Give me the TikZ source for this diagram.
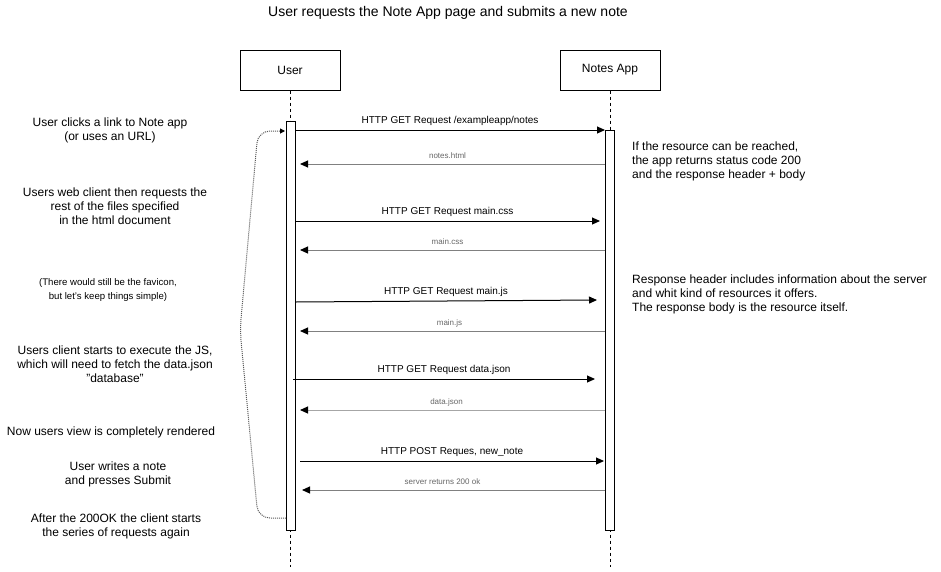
\documentclass[tikz,border=0pt]{standalone}
\usepackage{fontspec}
\setmainfont{Liberation Sans}
\usetikzlibrary{arrows.meta}
\newcommand\fsz[2]{\fontsize{#1}{#2}\selectfont}
\begin{document}
\begin{tikzpicture}[x=1pt,y=-1pt,
  titletext/.style={font=\fsz{14}{17}, inner sep=0},
  actor/.style={draw, line width=1pt, minimum width=100pt, minimum height=40pt, inner sep=0, font=\fsz{12}{14}},
  actbar/.style={draw, fill=white, line width=1pt, minimum width=9pt, inner sep=0},
  life/.style={dash pattern=on 3pt off 3pt, line width=1pt},
  req/.style={line width=1pt, -{Triangle[length=8pt,width=7pt]}},
  ret/.style={line width=1pt, draw=black!50, -{Triangle[length=8pt,width=7pt,color=black,fill=black]}},
  reqlbl/.style={font=\fsz{10}{12}, yshift=9pt, inner sep=0},
  retlbl/.style={font=\fsz{8}{10}, text=black!60, yshift=8pt, inner sep=0},
  lnote/.style={font=\fsz{12}{14}, align=center, inner sep=0},
  snote/.style={font=\fsz{9.6}{14}, align=center, inner sep=0},
  rnote/.style={font=\fsz{12}{14}, align=left, inner sep=0, anchor=west},
  loopln/.style={line width=1pt, draw=black!65, dash pattern=on 1pt off 1pt, rounded corners=12pt, -{Triangle[length=5pt,width=5pt,color=black,fill=black]}}
]
\useasboundingbox (0,0) rectangle (941,571);

\node[titletext] (title) at (448,13) {User requests the Note App page and submits a new note};

\node[actor] (ub) at (290,70) {User};
\node[actor] (nb) at (610,70) {Notes App};
\coordinate (uend) at (290,567);
\coordinate (nend) at (610,567);
\draw[life] (ub.south) -- (uend);
\draw[life] (nb.south) -- (nend);

\node[actbar, minimum height=409pt] (ua) at (290.5,325.5) {};
\node[actbar, minimum height=400pt] (na) at (610,330) {};

% message end points
\coordinate (m1a) at (295,130);  \coordinate (m1b) at (605,130);
\coordinate (m2a) at (605,164);  \coordinate (m2b) at (300,164);
\coordinate (m3a) at (295,221);  \coordinate (m3b) at (600,221);
\coordinate (m4a) at (605,250);  \coordinate (m4b) at (300,250);
\coordinate (m5a) at (295,302);  \coordinate (m5b) at (597,300);
\coordinate (m6a) at (605,331);  \coordinate (m6b) at (300,331);
\coordinate (m7a) at (293,379);  \coordinate (m7b) at (595,379);
\coordinate (m8a) at (605,410);  \coordinate (m8b) at (300,410);
\coordinate (m9a) at (300,461);  \coordinate (m9b) at (604,461);
\coordinate (m10a) at (605,490); \coordinate (m10b) at (302,490);

\draw[req] (m1a) -- node[reqlbl] (l1) {HTTP GET Request /exampleapp/notes} (m1b);
\draw[ret] (m2a) -- node[retlbl, xshift=-5pt] (l2) {notes.html} (m2b);
\draw[req] (m3a) -- node[reqlbl] (l3) {HTTP GET Request main.css} (m3b);
\draw[ret] (m4a) -- node[retlbl, xshift=-5pt] (l4) {main.css} (m4b);
\draw[req] (m5a) -- node[reqlbl] (l5) {HTTP GET Request main.js} (m5b);
\draw[ret] (m6a) -- node[retlbl, xshift=-3pt] (l6) {main.js} (m6b);
\draw[req] (m7a) -- node[reqlbl] (l7) {HTTP GET Request data.json} (m7b);
\draw[ret, draw=black!35] (m8a) -- node[retlbl, xshift=-6pt] (l8) {data.json} (m8b);
\draw[req] (m9a) -- node[reqlbl] (l9) {HTTP POST Reques, new\_note} (m9b);
\draw[ret] (m10a) -- node[retlbl, xshift=-11pt] (l10) {server returns 200 ok} (m10b);

% loop back
\coordinate (lp0) at (286,518);
\coordinate (lp1) at (258,518);
\coordinate (lp2) at (240,330);
\coordinate (lp3) at (258,131);
\coordinate (lp4) at (285,131);
\draw[loopln] (lp0) -- (lp1) -- (lp2) -- (lp3) -- (lp4);

% left notes
\node[lnote] (n1) at (110,130) {User clicks a link to Note app\\(or uses an URL)};
\node[lnote] (n2) at (115,206) {Users web client then requests the\\rest of the files specified\\in the html document};
\node[snote] (n3) at (108,290) {(There would still be the favicon,\\but let's keep things simple)};
\node[lnote] (n4) at (115,364) {Users client starts to execute the JS,\\which will need to fetch the data.json\\"database"};
\node[lnote] (n5) at (111,432) {Now users view is completely rendered};
\node[lnote] (n6) at (118,474) {User writes a note\\and presses Submit};
\node[lnote] (n7) at (116,526) {After the 200OK the client starts\\the series of requests again};

% right notes
\node[rnote] (r1) at (632,161) {If the resource can be reached,\\the app returns status code 200\\and the response header + body};
\node[rnote] (r2) at (632,294) {Response header includes information about the server\\and whit kind of resources it offers.\\The response body is the resource itself.};
\end{tikzpicture}
\end{document}
